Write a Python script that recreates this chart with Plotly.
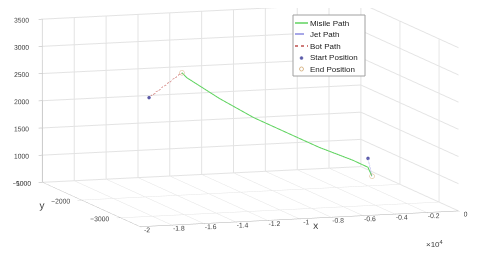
import plotly.graph_objects as go

# Data
missile_x = [-13700, -13418, -11631, -9812, -8056, -6300, -4481, -3850, -3725]
missile_y = [-2000, -2012, -2125, -2250, -2375, -2500, -2625, -2750, -2800]
missile_z = [2750, 2658, 2285, 1952, 1692, 1434, 1210, 1114, 965]

jet_x = [-3850, -3725]
jet_y = [-2750, -2800]
jet_z = [1279, 965]

bot_x = [-16375, -13700]
bot_y = [-2250, -2000]
bot_z = [2413, 2750]

start_x = [-16375, -3850]
start_y = [-2250, -2750]
start_z = [2413, 1279]

end_x = [-13700, -3725]
end_y = [-2000, -2800]
end_z = [2750, 965]

x_ticks = [-20000, -18000, -16000, -14000, -12000, -10000, -8000, -6000, -4000, -2000, 0]
x_tick_text = ["-2", "-1.8", "-1.6", "-1.4", "-1.2", "-1", "-0.8", "-0.6", "-0.4", "-0.2", "0"]
y_ticks = [-3000, -2000, -1000]
z_ticks = [500, 1000, 1500, 2000, 2500, 3000, 3500]

legend_names = ["Misile Path", "Jet Path", "Bot Path", "Start Position", "End Position"]

MISSILE_C = "#5fd35f"
JET_C = "#8a8ae0"
BOT_C = "#c0504d"
START_C = "#5a5aa8"
END_C = "#d9b88c"

fig = go.Figure()
fig.add_trace(go.Scatter3d(x=missile_x, y=missile_y, z=missile_z, mode="lines",
                           name=legend_names[0], line=dict(color=MISSILE_C, width=2)))
fig.add_trace(go.Scatter3d(x=jet_x, y=jet_y, z=jet_z, mode="lines",
                           name=legend_names[1], line=dict(color=JET_C, width=2, dash="dash")))
fig.add_trace(go.Scatter3d(x=bot_x, y=bot_y, z=bot_z, mode="lines",
                           name=legend_names[2], line=dict(color=BOT_C, width=2, dash="dot")))
fig.add_trace(go.Scatter3d(x=start_x, y=start_y, z=start_z, mode="markers",
                           name=legend_names[3], marker=dict(color=START_C, size=2, symbol="circle")))
fig.add_trace(go.Scatter3d(x=end_x, y=end_y, z=end_z, mode="markers",
                           name=legend_names[4], marker=dict(color=END_C, size=3, symbol="circle-open")))

axis_common = dict(showbackground=False, gridcolor="#e3e3e3", showline=True, linecolor="#b0b0b0",
                   ticks="outside", ticklen=4, tickcolor="#b0b0b0", zeroline=False, tickangle=0,
                   tickfont=dict(size=9, color="#404040", family="Liberation Sans"),
                   showspikes=False)

# Manual compact legend (MATLAB style) in paper pixels
W, H = 480, 262
def px(x):
    return x / W
def py(y):
    return 1 - y / H

shapes = [dict(type="rect", xref="paper", yref="paper", x0=px(285), x1=px(357), y0=py(68), y1=py(7),
               line=dict(color="#a0a0a0", width=1), fillcolor="white", layer="above")]
annotations = []
row_y = [15, 26, 38, 50, 61]
line_styles = [(MISSILE_C, "solid"), (JET_C, "dash"), (BOT_C, "dot")]
for i, (c, d) in enumerate(line_styles):
    shapes.append(dict(type="line", xref="paper", yref="paper", x0=px(287), x1=px(300),
                       y0=py(row_y[i]), y1=py(row_y[i]), line=dict(color=c, width=1.5, dash=d), layer="above"))
shapes.append(dict(type="circle", xref="paper", yref="paper", x0=px(292), x1=px(295),
                   y0=py(row_y[3] + 1.5), y1=py(row_y[3] - 1.5), fillcolor=START_C,
                   line=dict(color=START_C, width=0.5), layer="above"))
shapes.append(dict(type="circle", xref="paper", yref="paper", x0=px(291.5), x1=px(295.5),
                   y0=py(row_y[4] + 2), y1=py(row_y[4] - 2),
                   line=dict(color=END_C, width=1), layer="above"))
for i, name in enumerate(legend_names):
    annotations.append(dict(text=name, x=px(300), y=py(row_y[i]), xref="paper", yref="paper",
                            xanchor="left", yanchor="middle", showarrow=False,
                            font=dict(size=8, color="#202020", family="Liberation Sans")))
annotations.append(dict(text="×10<sup>4</sup>", x=px(437), y=py(243), xref="paper", yref="paper",
                        showarrow=False, font=dict(size=8, color="#404040")))

fig.update_layout(
    width=W, height=H,
    margin=dict(l=0, r=0, t=0, b=0),
    paper_bgcolor="white",
    font=dict(family="Liberation Sans", size=9, color="#404040"),
    showlegend=False,
    scene=dict(
        domain=dict(x=[0.01, 1], y=[0, 1]),
        xaxis=dict(range=[-20000, 0], tickvals=x_ticks, ticktext=x_tick_text,
                   title=dict(text="x", font=dict(size=10)), **axis_common),
        yaxis=dict(range=[-3500, -1000], tickvals=y_ticks,
                   title=dict(text="y", font=dict(size=10)), **axis_common),
        zaxis=dict(range=[500, 3500], tickvals=z_ticks,
                   title=dict(text="z", font=dict(size=10)), **axis_common),
        aspectmode="manual",
        aspectratio=dict(x=2.56, y=2.38, z=1.26),
        camera=dict(eye=dict(x=-0.62, y=-1.88, z=0.115), up=dict(x=0, y=0, z=1),
                    center=dict(x=0, y=0, z=-0.185), projection=dict(type="orthographic")),
    ),
    shapes=shapes,
    annotations=annotations,
)

fig.write_html("out.html")
